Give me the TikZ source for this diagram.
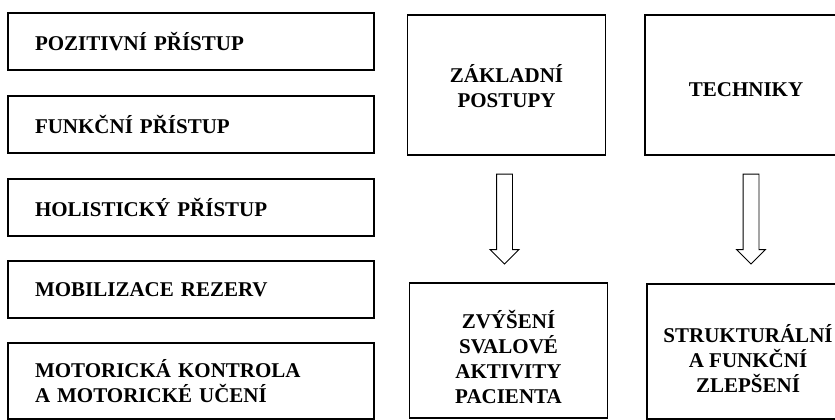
\documentclass[tikz,border=0pt]{standalone}
\usepackage{fontspec}
\setmainfont{Liberation Serif}
\usetikzlibrary{shapes.arrows, positioning, calc}
\newcommand{\liftby}[1]{\rule{0pt}{#1}}

\begin{document}
\begin{tikzpicture}[
    x=1pt, y=-1pt,
    every node/.style={font=\fontsize{21}{25}\selectfont\bfseries},
    item/.style={draw, line width=1.3pt, minimum width=366pt, minimum height=57pt,
                 text width=312pt, inner xsep=27pt, inner ysep=0pt, align=left},
    blk/.style={draw, line width=1.3pt, minimum width=198pt, minimum height=140pt, align=center},
    res/.style={blk, minimum height=135pt},
    downarrow/.style={draw, line width=0.9pt, single arrow, shape border rotate=270,
                      minimum height=90pt, minimum width=28pt, inner sep=7.5pt,
                      single arrow head extend=6.5pt, anchor=tail}
]
\useasboundingbox (0,0) rectangle (835,420);
\clip (0,0) rectangle (835,420);
% left column
\node[item] (pozitivni)  at (191,41.5)  {POZITIVNÍ PŘÍSTUP};
\node[item] (funkcni)    at (191,124.5) {FUNKČNÍ PŘÍSTUP};
\node[item] (holisticky) at (191,207.5) {HOLISTICKÝ PŘÍSTUP};
\node[item] (mobilizace) at (191,289.5) {MOBILIZACE REZERV};
\node[item, minimum height=76pt] (motoricka) at (191,381) {MOTORICKÁ KONTROLA\\A MOTORICKÉ UČENÍ};
% right part
\node[blk] (postupy)  at (506.5,85) {\liftby{21pt}ZÁKLADNÍ\\POSTUPY};
\node[blk, minimum width=202pt] (techniky) at (746,85) {\liftby{23pt}TECHNIKY};
\node[res] (zvyseni)  at (508.5,350.5) {\liftby{31pt}ZVÝŠENÍ\\SVALOVÉ\\AKTIVITY\\PACIENTA};
\node[res, minimum width=202pt] (zlepseni) at (748,351.5) {\liftby{33pt}STRUKTURÁLNÍ\\A FUNKČNÍ\\ZLEPŠENÍ};
\node[downarrow] (arr1) at ([yshift=-18pt, xshift=-2pt]postupy.south) {};
\node[downarrow] (arr2) at ([yshift=-18pt, xshift=5pt]techniky.south) {};
\end{tikzpicture}
\end{document}
